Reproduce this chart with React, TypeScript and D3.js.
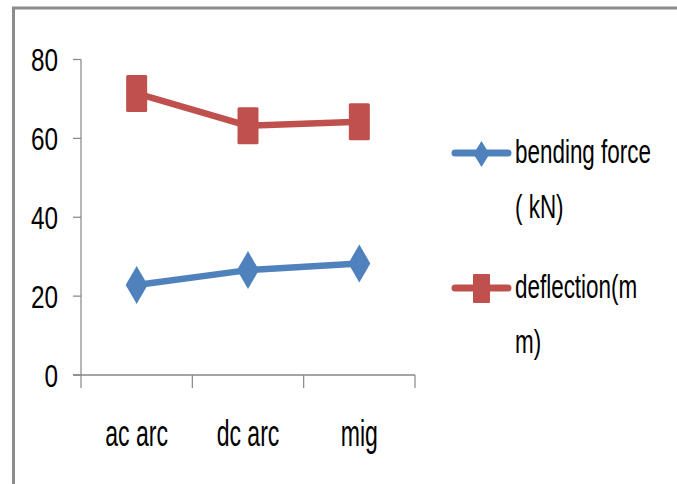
import React from "react";
import * as d3 from "d3";

const categories = ["ac arc", "dc arc", "mig"];
const bendingForce = [22.8, 26.6, 28.3];
const deflection = [71.4, 63.2, 64.2];
const yTicks = [0, 20, 40, 60, 80];
const seriesNames = [["bending force", "( kN)"], ["deflection(m", "m)"]];

const W = 677;
const H = 484;
const BLUE = "#4F81BD";
const RED = "#C0504D";
const AXIS = "#868686";
const FONT = "'Liberation Sans', Arial, sans-serif";

function SText({ x, y, sx, size, anchor, children }: any) {
  return (
    <text
      transform={`translate(${x},${y}) scale(${sx},1)`}
      fontFamily={FONT}
      fontSize={size}
      textAnchor={anchor || "start"}
      fill="#000"
    >
      {children}
    </text>
  );
}

function diamond(cx: number, cy: number, w: number, h: number) {
  return `M${cx},${cy - h / 2}L${cx + w / 2},${cy}L${cx},${cy + h / 2}L${cx - w / 2},${cy}Z`;
}

export default function App() {
  const x = d3.scaleBand<string>().domain(categories).range([81, 415]);
  const y = d3.scaleLinear().domain([0, 80]).range([375, 59.5]);
  const cx = (c: string) => (x(c) as number) + x.bandwidth() / 2;

  const line = d3
    .line<[number, number]>()
    .x((d) => d[0])
    .y((d) => d[1]);

  const bluePts: [number, number][] = categories.map((c, i) => [cx(c), y(bendingForce[i])]);
  const redPts: [number, number][] = categories.map((c, i) => [cx(c), y(deflection[i])]);

  const xTickPos = [...categories.map((c) => x(c) as number), 415];

  return (
    <svg
      width={W}
      height={H}
      style={{ position: "absolute", left: 0, top: 0, background: "#fff" }}
    >
      <rect x={0} y={0} width={W} height={H} fill="#fff" />
      {/* frame */}
      <line x1={12} x2={W} y1={8} y2={8} stroke="#8c8c8c" strokeWidth={3} />
      <line x1={13.5} x2={13.5} y1={7} y2={H} stroke="#8c8c8c" strokeWidth={3} />

      {/* y axis */}
      <line x1={81} x2={81} y1={y(80)} y2={y(0)} stroke={AXIS} strokeWidth={1.2} />
      {yTicks.map((t) => (
        <g key={t}>
          <line x1={73} x2={81} y1={y(t)} y2={y(t)} stroke={AXIS} strokeWidth={1.2} />
          <SText x={58} y={y(t) + 11.5} sx={0.76} size={32} anchor="end">
            {t}
          </SText>
        </g>
      ))}

      {/* x axis */}
      <line x1={73} x2={415} y1={y(0)} y2={y(0)} stroke={AXIS} strokeWidth={1.6} />
      {xTickPos.map((p, i) => (
        <line key={i} x1={p} x2={p} y1={y(0)} y2={388} stroke={AXIS} strokeWidth={1.2} />
      ))}
      {categories.map((c) => (
        <SText key={c} x={cx(c)} y={446} sx={0.64} size={36} anchor="middle">
          {c}
        </SText>
      ))}

      {/* series */}
      <path d={line(redPts) || ""} fill="none" stroke={RED} strokeWidth={6.5} strokeLinejoin="round" />
      {redPts.map((p, i) => (
        <rect key={i} x={p[0] - 10.5} y={p[1] - 18.5} width={21} height={37} fill={RED} rx={1.5} />
      ))}
      <path d={line(bluePts) || ""} fill="none" stroke={BLUE} strokeWidth={6.5} strokeLinejoin="round" />
      {bluePts.map((p, i) => (
        <path key={i} d={diamond(p[0], p[1], 22, 38)} fill={BLUE} />
      ))}

      {/* legend */}
      <line x1={455} x2={508} y1={153} y2={153} stroke={BLUE} strokeWidth={7} strokeLinecap="round" />
      <path d={diamond(481.5, 154, 16, 26)} fill={BLUE} />
      <SText x={515} y={163} sx={0.66} size={34}>{seriesNames[0][0]}</SText>
      <SText x={515} y={218} sx={0.66} size={34}>{seriesNames[0][1]}</SText>

      <line x1={455} x2={508} y1={288} y2={288} stroke={RED} strokeWidth={7} strokeLinecap="round" />
      <rect x={473} y={274} width={17} height={29} fill={RED} rx={1} />
      <SText x={515} y={298} sx={0.66} size={34}>{seriesNames[1][0]}</SText>
      <SText x={515} y={353} sx={0.66} size={34}>{seriesNames[1][1]}</SText>
    </svg>
  );
}
